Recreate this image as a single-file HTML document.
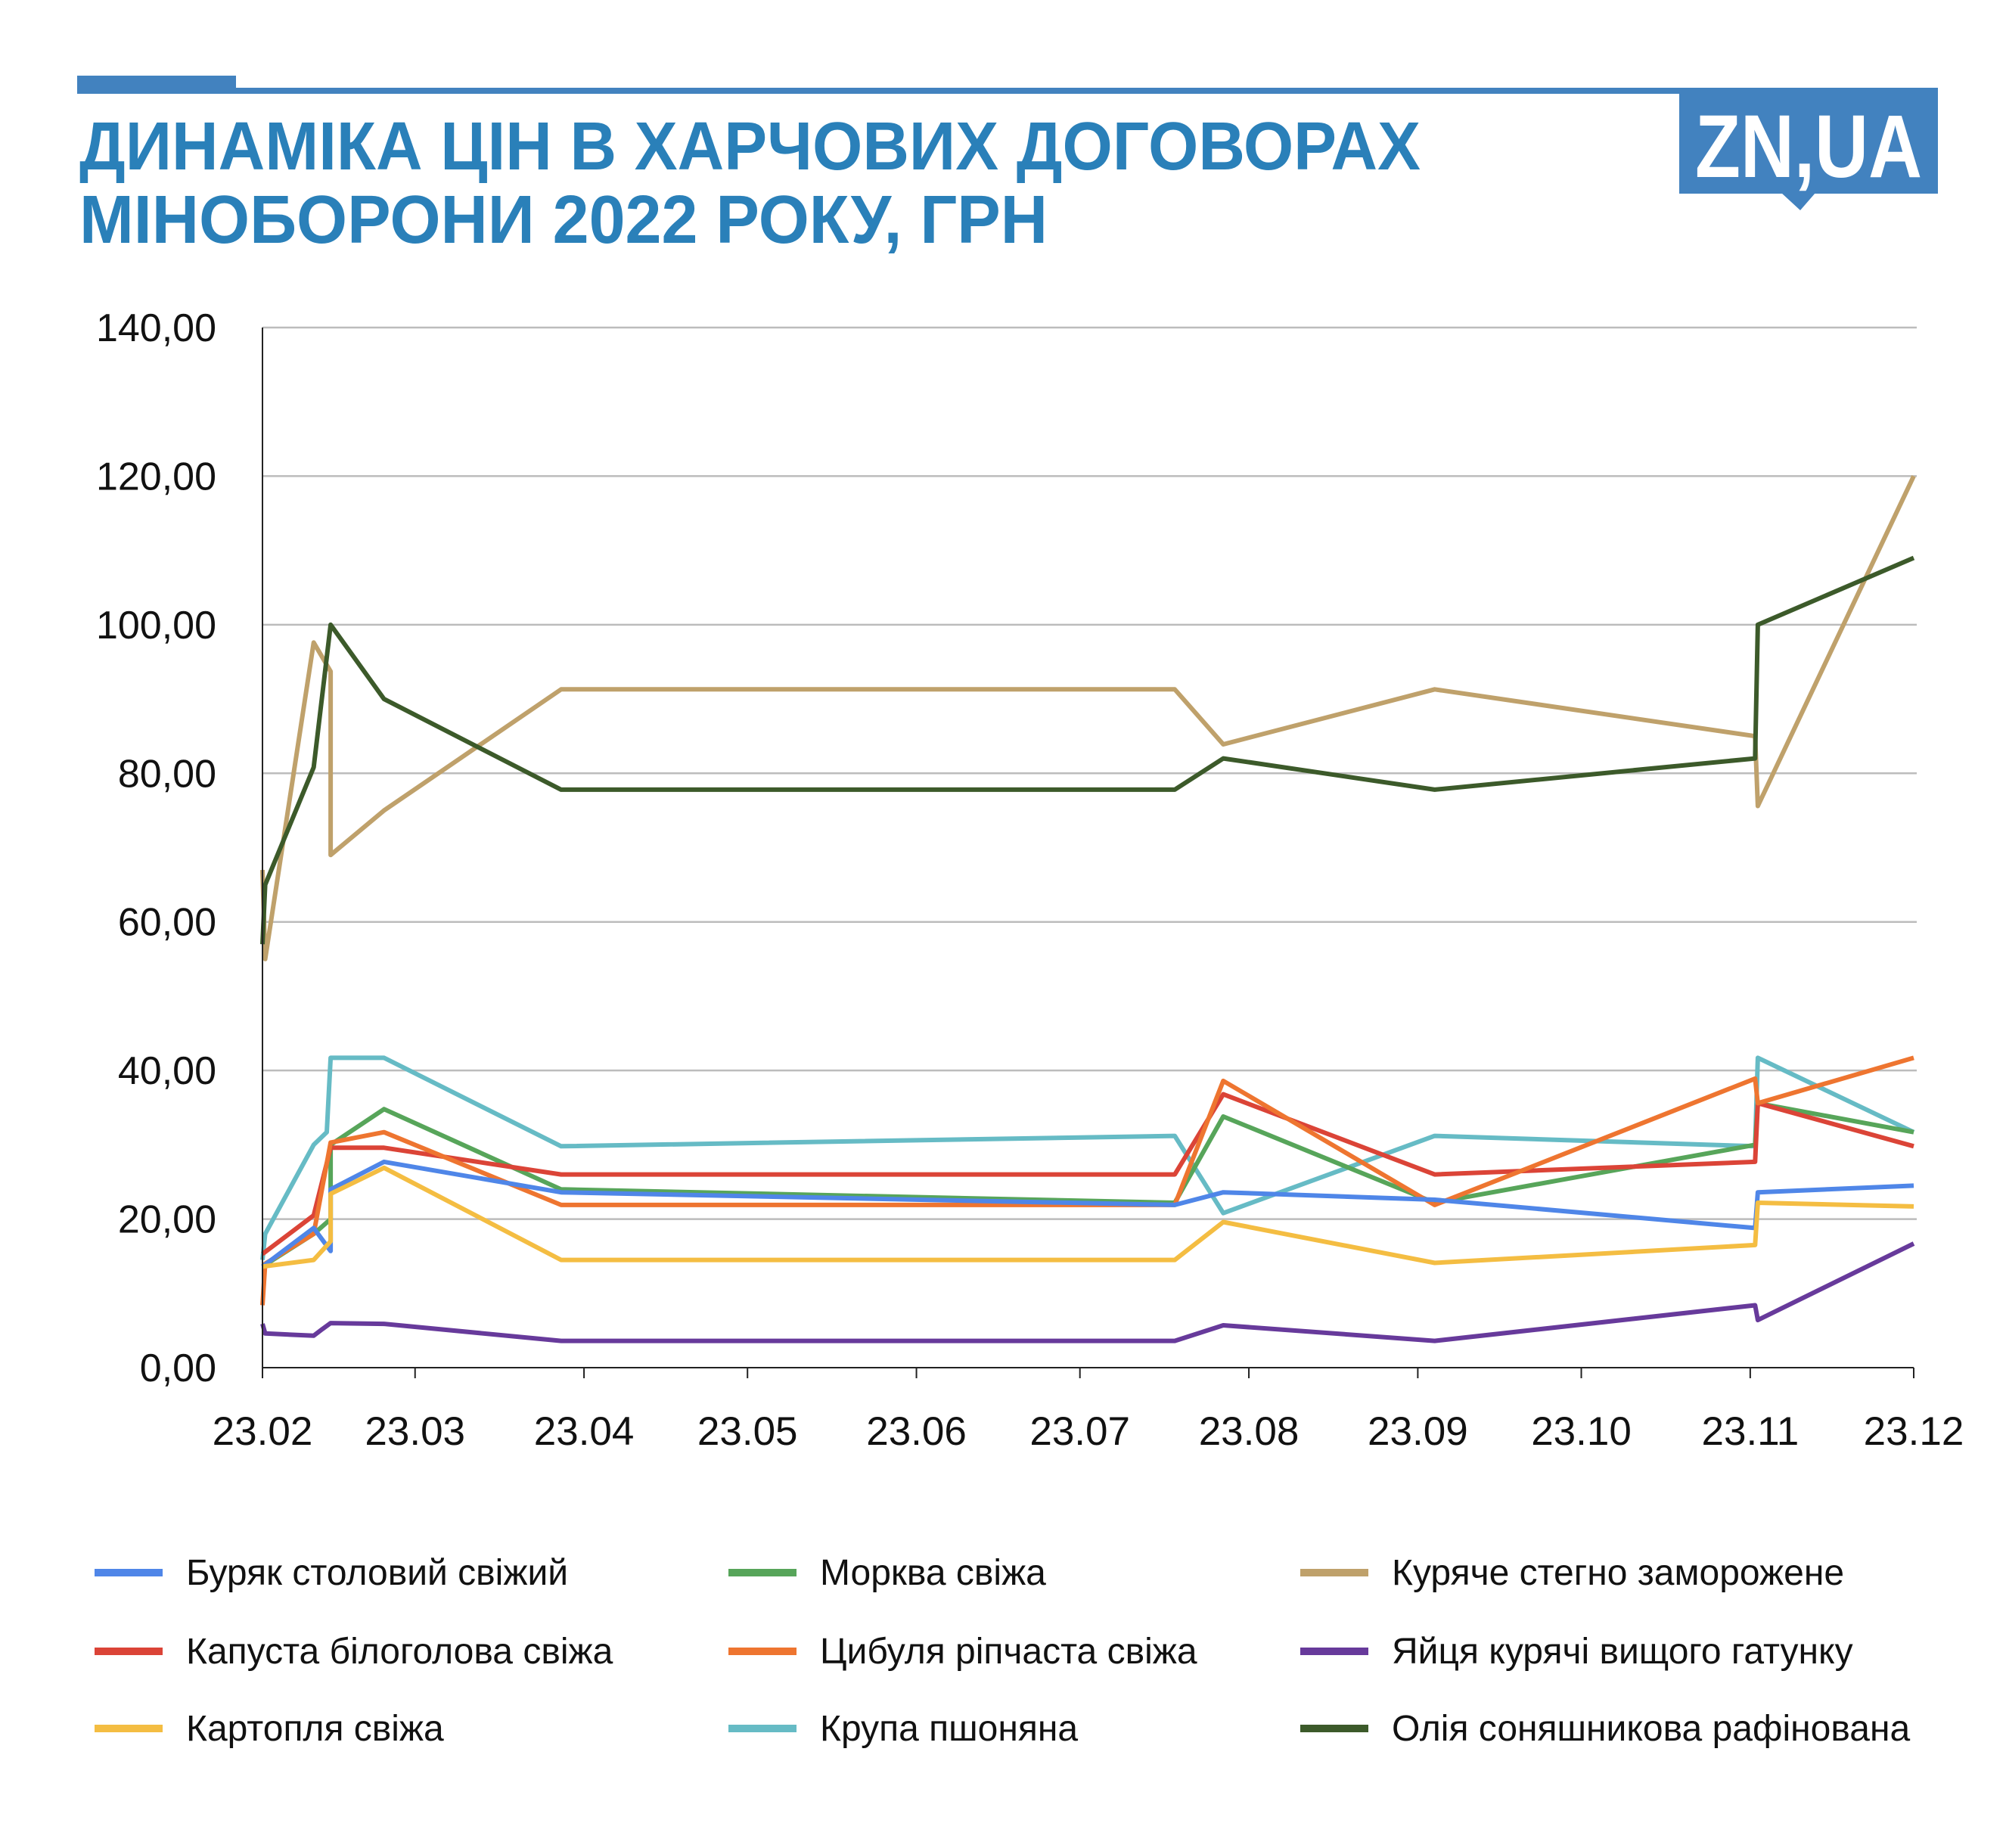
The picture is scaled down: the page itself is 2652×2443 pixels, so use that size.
<!DOCTYPE html>
<html><head><meta charset="utf-8"><style>
html,body{margin:0;padding:0;background:#fff;}
svg{display:block;}
text{font-family:"Liberation Sans",sans-serif;}
</style></head><body>
<svg id="chart" width="2652" height="2443" viewBox="0 0 2652 2443" xmlns="http://www.w3.org/2000/svg">
<rect x="102" y="100" width="210" height="24" fill="#4282bf"/>
<rect x="102" y="116" width="2130" height="8" fill="#4282bf"/>
<g>
<rect x="2220" y="116" width="342" height="140" fill="#4282bf"/>
<polygon points="2355,255 2400,255 2380,278" fill="#4282bf"/>
<text x="2391" y="234" font-size="118" font-weight="bold" fill="#fff" text-anchor="middle" textLength="300" lengthAdjust="spacingAndGlyphs">ZN,UA</text>
</g>
<text x="105" y="224" font-size="90" font-weight="bold" fill="#2a80b9" textLength="1773" lengthAdjust="spacingAndGlyphs">ДИНАМІКА ЦІН В ХАРЧОВИХ ДОГОВОРАХ</text>
<text x="105" y="321" font-size="90" font-weight="bold" fill="#2a80b9" textLength="1280" lengthAdjust="spacingAndGlyphs">МІНОБОРОНИ 2022 РОКУ, ГРН</text>
<g id="grid"></g><g id="series"></g><g id="axes"></g><g id="legend"></g>
</svg>
<script>
const yTicks=[0,20,40,60,80,100,120,140];
const xTickDays=[0,28,59,89,120,150,181,212,242,273,303];
const xTickLabels=["23.02","23.03","23.04","23.05","23.06","23.07","23.08","23.09","23.10","23.11","23.12"];
const seriesNames=["Буряк столовий свіжий","Капуста білоголова свіжа","Картопля свіжа","Морква свіжа","Цибуля ріпчаста свіжа","Крупа пшоняна","Куряче стегно заморожене","Яйця курячі вищого гатунку","Олія соняшникова рафінована"];
const seriesColors=["#4f86e8","#db4437","#f4bd42","#57a55a","#ee7530","#66bbc5","#bfa16b","#673a9b","#3c5a2a"];
const daysBeet=[0,9.4,12.5,12.5,22.3,54.8,167.4,176.3,215.1,273.9,274.4,303];
const valsBeet=[13.6,18.8,15.7,24,27.7,23.6,21.9,23.6,22.6,18.8,23.6,24.5];
const daysCabbage=[0,9.4,12.5,22.3,54.8,167.4,176.3,215.1,273.9,274.4,303];
const valsCabbage=[15.3,20.5,29.6,29.6,26,26,36.8,26,27.7,35.6,29.8];
const daysPotato=[0,9.4,12.5,12.5,22.3,54.8,167.4,176.3,215.1,273.9,274.4,303];
const valsPotato=[13.6,14.5,17,23.4,26.9,14.5,14.5,19.6,14.1,16.5,22.2,21.7];
const daysCarrot=[0,9.4,12.5,12.5,22.3,54.8,167.4,176.3,215.1,273.9,274.4,303];
const valsCarrot=[13.6,18,20,30,34.8,24,22.2,33.8,22.2,30,35.6,31.7];
const daysOnion=[0,0.5,9.4,12.5,22.3,54.8,167.4,176.3,215.1,273.9,274.4,303];
const valsOnion=[8.4,14,18,30.3,31.7,21.9,21.9,38.6,21.9,38.9,35.6,41.7];
const daysMillet=[0,0.5,9.4,11.8,12.5,22.3,54.8,167.4,176.3,215.1,273.9,274.4,303];
const valsMillet=[14.5,18,30,31.7,41.7,41.7,29.8,31.2,20.8,31.2,29.8,41.7,31.7];
const daysChicken=[0,0.5,9.4,12.5,12.5,22.3,54.8,167.4,176.3,215.1,273.9,274.4,303];
const valsChicken=[67,55,97.6,93.7,69,75,91.3,91.3,83.9,91.3,85,75.6,120];
const daysEggs=[0,0.5,9.4,11,12.5,22.3,54.8,167.4,176.3,215.1,273.9,274.4,303];
const valsEggs=[5.9,4.6,4.3,5.2,6,5.9,3.6,3.6,5.7,3.6,8.4,6.4,16.7];
const daysOil=[0,0.5,9.4,12.5,22.3,54.8,167.4,176.3,215.1,273.9,274.4,303];
const valsOil=[57,65,80.8,100,90,77.8,77.8,82,77.8,82,100,109];
const allDays=[daysBeet,daysCabbage,daysPotato,daysCarrot,daysOnion,daysMillet,daysChicken,daysEggs,daysOil];
const allVals=[valsBeet,valsCabbage,valsPotato,valsCarrot,valsOnion,valsMillet,valsChicken,valsEggs,valsOil];
const NS="http://www.w3.org/2000/svg";
const X0=347,X1=2530,Y0=1808,Y1=433,DMAX=303,VMAX=140;
const sx=d=>X0+(X1-X0)*d/DMAX, sy=v=>Y0-(Y0-Y1)*v/VMAX;
function mk(tag,attrs,parent){const e=document.createElementNS(NS,tag);for(const k in attrs)e.setAttribute(k,attrs[k]);parent.appendChild(e);return e;}
const grid=document.getElementById('grid'),axes=document.getElementById('axes'),ser=document.getElementById('series'),leg=document.getElementById('legend');
yTicks.forEach(v=>{
 if(v>0){const l=mk('line',{x1:X0,x2:X1+4,y1:sy(v),y2:sy(v),stroke:'#bcbcbc','stroke-width':2.5},grid);
 
 }
 const t=mk('text',{x:286,y:sy(v)+18,'font-size':52,'text-anchor':'end',fill:'#111'},axes);
 t.textContent=v.toFixed(2).replace('.',',');
 
 
});
const la=mk('line',{x1:X0,x2:X0,y1:Y1,y2:Y0,stroke:'#222','stroke-width':2},axes);


const lb=mk('line',{x1:X0,x2:X1,y1:Y0,y2:Y0,stroke:'#222','stroke-width':2},axes);


xTickDays.forEach((d,i)=>{
 mk('line',{x1:sx(d),x2:sx(d),y1:Y0,y2:Y0+14,stroke:'#222','stroke-width':2},axes);
 const t=mk('text',{x:sx(d),y:1910,'font-size':53,'text-anchor':'middle',fill:'#111'},axes);
 t.textContent=xTickLabels[i];
 
 
});
const order=[5,3,1,4,0,2,6,8,7];
order.forEach(i=>{
 const pts=allDays[i].map((d,j)=>sx(d).toFixed(1)+','+sy(allVals[i][j]).toFixed(1)).join(' ');
 const p=mk('polyline',{points:pts,fill:'none',stroke:seriesColors[i],'stroke-width':6,'stroke-linejoin':'round'},ser);
 
 
});
const colX=[125,963,1719],rowY=[2079,2183,2285];
const legOrder=[0,3,6,1,4,7,2,5,8];
legOrder.forEach((i,k)=>{
 const c=k%3,r=Math.floor(k/3);
 const g=mk('g',{},leg);
 
 
 mk('rect',{x:colX[c],y:rowY[r]-5,width:90,height:10,fill:seriesColors[i]},g);
 const t=mk('text',{x:colX[c]+121,y:rowY[r]+16,'font-size':48,fill:'#111'},g);
 t.textContent=seriesNames[i];
});
</script>
</body></html>
